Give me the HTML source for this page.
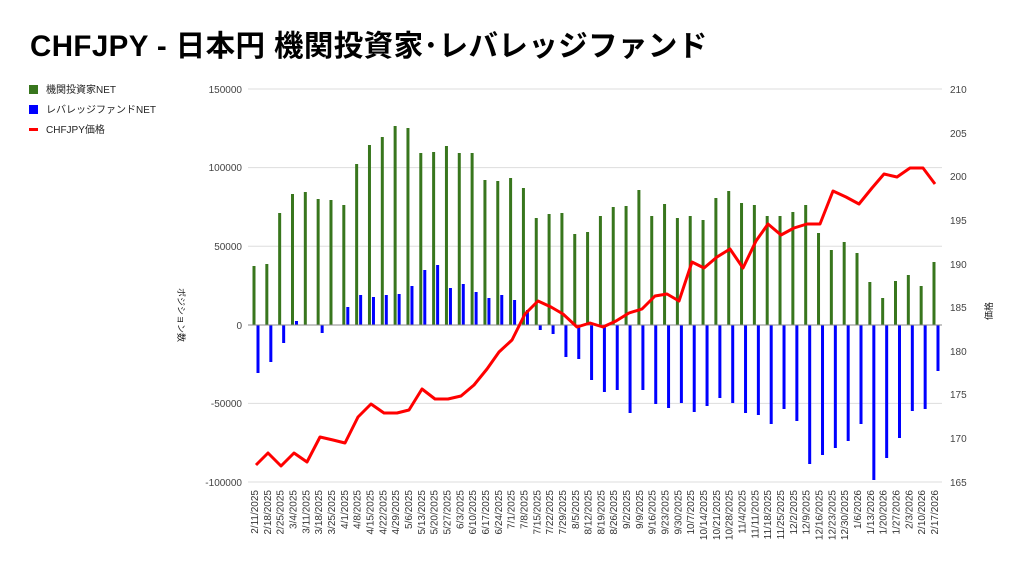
<!DOCTYPE html>
<html><head><meta charset="utf-8"><style>
body{margin:0;background:#fff}
svg text{font-family:"Liberation Sans","Noto Sans CJK JP",sans-serif}
</style></head><body>
<svg width="1024" height="570" viewBox="0 0 1024 570" xmlns="http://www.w3.org/2000/svg">
<text x="30" y="56" font-size="29.5" font-weight="bold" fill="#000" letter-spacing="0.4">CHFJPY - 日本円 機関投資家･レバレッジファンド</text>
<rect x="29" y="85" width="9" height="9" fill="#38761d"/>
<text x="46" y="93" font-size="10" fill="#222">機関投資家NET</text>
<rect x="29" y="105" width="9" height="9" fill="#0000ff"/>
<text x="46" y="113" font-size="10" fill="#222">レバレッジファンドNET</text>
<rect x="29" y="128" width="9" height="3" fill="#ff0000"/>
<text x="46" y="133" font-size="10" fill="#222">CHFJPY価格</text>
<g stroke="#ddd" stroke-width="1">
<line x1="248" x2="942" y1="89" y2="89"/><line x1="248" x2="942" y1="167.6" y2="167.6"/><line x1="248" x2="942" y1="246.2" y2="246.2"/><line x1="248" x2="942" y1="403.4" y2="403.4"/><line x1="248" x2="942" y1="482" y2="482"/>
</g>
<g font-size="10" fill="#444" text-anchor="end">
<text x="242" y="93">150000</text><text x="242" y="171">100000</text><text x="242" y="250">50000</text><text x="242" y="329">0</text><text x="242" y="407">-50000</text><text x="242" y="486">-100000</text>
</g>
<g font-size="10" fill="#444">
<text x="950" y="93">210</text><text x="950" y="137">205</text><text x="950" y="180">200</text><text x="950" y="224">195</text><text x="950" y="268">190</text><text x="950" y="311">185</text><text x="950" y="355">180</text><text x="950" y="398">175</text><text x="950" y="442">170</text><text x="950" y="486">165</text>
</g>
<text transform="translate(178,315) rotate(90)" font-size="9" fill="#222" text-anchor="middle">ポジション数</text>
<text transform="translate(992,311) rotate(-90)" font-size="9" fill="#222" text-anchor="middle">価格</text>
<g id="bars"></g>
<line x1="248" x2="942" y1="325" y2="325" stroke="#888" stroke-width="1"/>
<g font-size="10" fill="#333" id="xl"></g>
<polyline fill="none" stroke="#ff0000" stroke-width="3" stroke-linejoin="round" points="256,465 268,453 281,466 294,453 307,462 320,437 333,440 345,443 358,417 371,404 384,413 397,413 409,410 422,389 435,399 448,399 461,396 474,385 487,369 499,352 512,340 525,314 538,301 551,307 563,314 577,327 590,323 603,327 616,321 629,313 642,309 655,296 667,294 679,301 692,262 704,268 717,257 730,249 743,268 756,241 768,224 781,235 794,228 807,224 820,224 833,191 846,197 859,204 872,188 884,174 897,177 910,168 923,168 935,184"/>
</svg>
<script>
var gt=[266,264,213,194,192,199,200,205,164,145,137,126,128,153,152,146,153,153,180,181,178,188,218,214,213,234,232,216,207,206,190,216,204,218,216,220,198,191,203,205,216,216,212,205,233,250,242,253,282,298,281,275,286,262];
var bb=[373,362,343,321,325,333,325,307,295,297,295,294,286,270,265,288,284,292,298,295,300,310,330,334,357,359,380,392,390,413,390,404,408,403,412,406,398,403,413,415,424,409,421,464,455,448,441,424,480,458,438,411,409,371];
var d=["2/11/2025","2/18/2025","2/25/2025","3/4/2025","3/11/2025","3/18/2025","3/25/2025","4/1/2025","4/8/2025","4/15/2025","4/22/2025","4/29/2025","5/6/2025","5/13/2025","5/20/2025","5/27/2025","6/3/2025","6/10/2025","6/17/2025","6/24/2025","7/1/2025","7/8/2025","7/15/2025","7/22/2025","7/29/2025","8/5/2025","8/12/2025","8/19/2025","8/26/2025","9/2/2025","9/9/2025","9/16/2025","9/23/2025","9/30/2025","10/7/2025","10/14/2025","10/21/2025","10/28/2025","11/4/2025","11/11/2025","11/18/2025","11/25/2025","12/2/2025","12/9/2025","12/16/2025","12/23/2025","12/30/2025","1/6/2026","1/13/2026","1/20/2026","1/27/2026","2/3/2026","2/10/2026","2/17/2026"];
var s='',x='';
for(var i=0;i<54;i++){var c=254+12.83*i;
s+='<rect x="'+(c-1.5)+'" y="'+gt[i]+'" width="3" height="'+(325-gt[i])+'" fill="#38761d"/>';
var y0=Math.min(325,bb[i]),h=Math.abs(325-bb[i]);
s+='<rect x="'+(c+2.5)+'" y="'+y0+'" width="3" height="'+h+'" fill="#0000ff"/>';
x+='<text transform="translate('+(c+4)+',490) rotate(-90)" text-anchor="end">'+d[i]+'</text>';}
document.getElementById('bars').innerHTML=s;
document.getElementById('xl').innerHTML=x;
</script>
</body></html>
